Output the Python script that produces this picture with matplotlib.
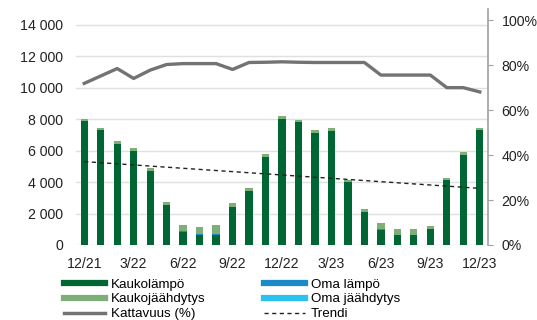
import numpy as np
import matplotlib.pyplot as plt
from matplotlib.lines import Line2D
from matplotlib.ticker import FuncFormatter

plt.rcParams['font.family'] = ['Liberation Sans', 'DejaVu Sans']

# kuukaudet 12/21 ... 12/23
months = ['12/21', '1/22', '2/22', '3/22', '4/22', '5/22', '6/22', '7/22', '8/22',
          '9/22', '10/22', '11/22', '12/22', '1/23', '2/23', '3/23', '4/23', '5/23',
          '6/23', '7/23', '8/23', '9/23', '10/23', '11/23', '12/23']
tick_labels = ['12/21', '3/22', '6/22', '9/22', '12/22', '3/23', '6/23', '9/23', '12/23']

kaukolampo = [7900, 7300, 6450, 5950, 4730, 2520, 850, 620, 620, 2440, 3440, 5600,
              8000, 7800, 7130, 7260, 4020, 2080, 950, 620, 620, 1000, 4130, 5750, 7280]
oma_lampo = [0, 0, 0, 0, 0, 0, 50, 70, 70, 0, 0, 0,
             0, 0, 0, 0, 0, 0, 60, 40, 40, 0, 0, 0, 0]
kaukojaahdytys = [110, 150, 150, 200, 150, 210, 400, 480, 600, 200, 170, 170,
                  190, 170, 150, 150, 100, 230, 370, 340, 340, 220, 150, 130, 130]
oma_jaahdytys = [0] * 25
kattavuus = [71.9, 75.2, 78.5, 74.1, 77.8, 80.3, 80.7, 80.7, 80.7, 78.1, 81.2, 81.3,
             81.5, 81.3, 81.2, 81.2, 81.2, 81.2, 75.6, 75.6, 75.6, 75.6, 70.0, 70.0, 68.1]
# trendiviiva (alku- ja loppupiste)
trend_x = [0, 24]
trend_y = [5300, 3600]

c_kl = '#006633'
c_kj = '#7fae78'
c_ol = '#1a8ac8'
c_oj = '#2cc2ef'
c_kat = '#737373'

fig = plt.figure(figsize=(5.37, 3.2), dpi=100)
ax = fig.add_axes([0.1415, 0.2344, 0.7673, 0.7375])
x = np.arange(len(months))
w = 0.44

b1 = np.array(kaukolampo)
b2 = b1 + np.array(oma_lampo)
b3 = b2 + np.array(kaukojaahdytys)
ax.bar(x, kaukolampo, w, color=c_kl, zorder=2)
ax.bar(x, oma_lampo, w, bottom=b1, color=c_ol, zorder=2)
ax.bar(x, kaukojaahdytys, w, bottom=b2, color=c_kj, zorder=2)
ax.bar(x, oma_jaahdytys, w, bottom=b3, color=c_oj, zorder=2)
ax.plot(trend_x, trend_y, color='#222222', lw=1.0, ls=(0, (3, 2.5)), zorder=4)

ax.set_xlim(-0.5, 24.5)
ax.set_ylim(0, 15000)
ax.set_yticks(range(0, 14001, 2000))
ax.yaxis.set_major_formatter(FuncFormatter(lambda v, p: f'{int(v):,}'.replace(',', ' ')))
ax.grid(axis='y', color='#e0e0e0', lw=1.0, zorder=0)
ax.set_axisbelow(True)
ax.set_xticks([0, 3, 6, 9, 12, 15, 18, 21, 24])
ax.set_xticklabels(tick_labels)
for s in ['left', 'top', 'right', 'bottom']:
    ax.spines[s].set_visible(False)
ax.tick_params(axis='both', length=0, labelsize=10.2, colors='#222222')
ax.tick_params(axis='x', pad=9)
ax.tick_params(axis='y', pad=9.5)

ax2 = ax.twinx()
ax2.plot(x, kattavuus, color=c_kat, lw=2.4, zorder=3)
ax2.set_ylim(0, 105)
ax2.set_yticks(range(0, 101, 20))
ax2.set_yticklabels([f'{v}%' for v in range(0, 101, 20)])
for s in ['left', 'top', 'bottom']:
    ax2.spines[s].set_visible(False)
ax2.spines['right'].set_color('#a0a0a0')
ax2.spines['right'].set_linewidth(1.2)
ax2.tick_params(axis='y', length=3.3, color='#a0a0a0', labelsize=10.2, labelcolor='#222222', pad=6.5)

handles = [Line2D([], [], color=c_kl, lw=4.5),
           Line2D([], [], color=c_kj, lw=4.5),
           Line2D([], [], color=c_kat, lw=2.5),
           Line2D([], [], color=c_ol, lw=4.5),
           Line2D([], [], color=c_oj, lw=4.5),
           Line2D([], [], color='#222222', lw=1.0, ls=(0, (3, 2.5)))]
labels = ['Kaukolämpö', 'Kaukojäähdytys', 'Kattavuus (%)',
          'Oma lämpö', 'Oma jäähdytys', 'Trendi']
fig.legend(handles, labels, ncol=2, loc='upper left', bbox_to_anchor=(0.119, 0.1305),
           frameon=False, fontsize=9.6, handlelength=3.07, handletextpad=0.45,
           labelspacing=0.19, columnspacing=4.4, borderpad=0, borderaxespad=0)

fig.savefig('out.png', dpi=100)
